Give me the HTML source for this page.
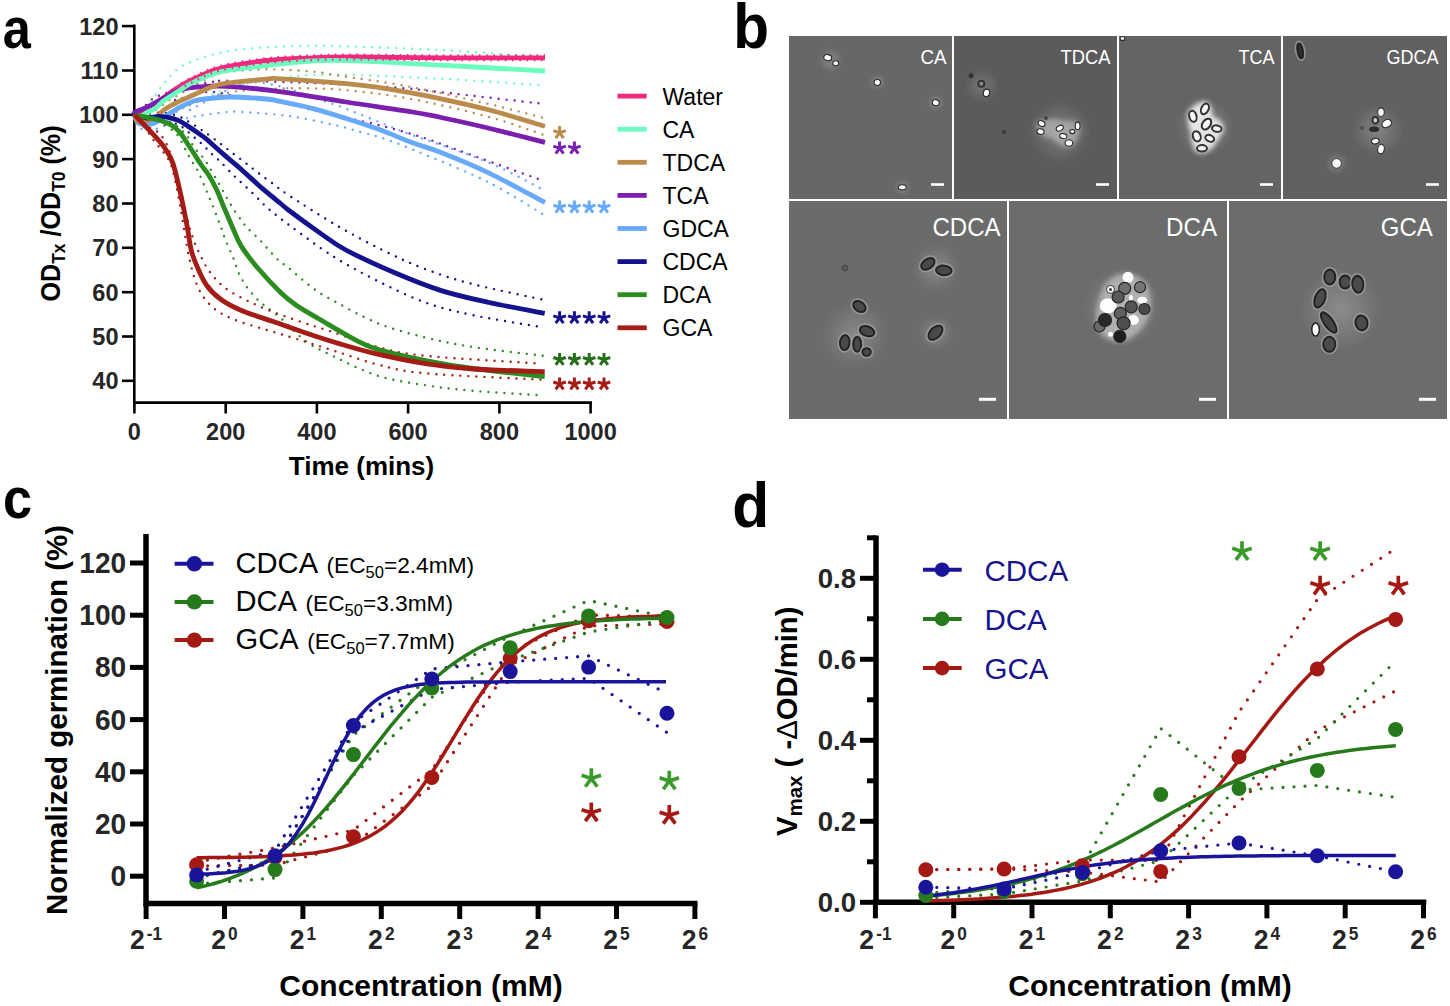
<!DOCTYPE html>
<html><head><meta charset="utf-8"><title>Figure</title>
<style>html,body{margin:0;padding:0;background:#fff;width:1450px;height:1006px;overflow:hidden}svg{display:block}</style>
</head><body>
<svg width="1450" height="1006" viewBox="0 0 1450 1006">
<defs><radialGradient id="halo"><stop offset="0" stop-color="#fff" stop-opacity="0.22"/><stop offset="1" stop-color="#fff" stop-opacity="0"/></radialGradient><filter id="soft" x="-5%" y="-5%" width="110%" height="110%"><feGaussianBlur stdDeviation="0.6"/></filter><filter id="blur3" x="-30%" y="-30%" width="160%" height="160%"><feGaussianBlur stdDeviation="2.5"/></filter><radialGradient id="vign" cx="0.5" cy="0.5" r="0.7"><stop offset="0.5" stop-color="#000" stop-opacity="0"/><stop offset="1" stop-color="#000" stop-opacity="0.06"/></radialGradient></defs>
<rect width="1450" height="1006" fill="#fff"/>
<text x="1" y="48" font-family='"Liberation Sans", sans-serif' font-weight="bold" font-size="58" transform="translate(2,0) scale(0.87,1)">a</text>
<path d="M134.3,24.5 V403.8 M133,402.6 H592" stroke="#000" stroke-width="2.6" fill="none"/>
<path d="M122,380.8 H134" stroke="#000" stroke-width="2.6"/>
<text x="118.5" y="389.2" text-anchor="end" font-family='"Liberation Sans", sans-serif' font-weight="bold" font-size="23.5" fill="#262626">40</text>
<path d="M122,336.5 H134" stroke="#000" stroke-width="2.6"/>
<text x="118.5" y="344.9" text-anchor="end" font-family='"Liberation Sans", sans-serif' font-weight="bold" font-size="23.5" fill="#262626">50</text>
<path d="M122,292.2 H134" stroke="#000" stroke-width="2.6"/>
<text x="118.5" y="300.6" text-anchor="end" font-family='"Liberation Sans", sans-serif' font-weight="bold" font-size="23.5" fill="#262626">60</text>
<path d="M122,247.8 H134" stroke="#000" stroke-width="2.6"/>
<text x="118.5" y="256.2" text-anchor="end" font-family='"Liberation Sans", sans-serif' font-weight="bold" font-size="23.5" fill="#262626">70</text>
<path d="M122,203.5 H134" stroke="#000" stroke-width="2.6"/>
<text x="118.5" y="211.9" text-anchor="end" font-family='"Liberation Sans", sans-serif' font-weight="bold" font-size="23.5" fill="#262626">80</text>
<path d="M122,159.1 H134" stroke="#000" stroke-width="2.6"/>
<text x="118.5" y="167.5" text-anchor="end" font-family='"Liberation Sans", sans-serif' font-weight="bold" font-size="23.5" fill="#262626">90</text>
<path d="M122,114.8 H134" stroke="#000" stroke-width="2.6"/>
<text x="118.5" y="123.2" text-anchor="end" font-family='"Liberation Sans", sans-serif' font-weight="bold" font-size="23.5" fill="#262626">100</text>
<path d="M122,70.5 H134" stroke="#000" stroke-width="2.6"/>
<text x="118.5" y="78.9" text-anchor="end" font-family='"Liberation Sans", sans-serif' font-weight="bold" font-size="23.5" fill="#262626">110</text>
<path d="M122,26.1 H134" stroke="#000" stroke-width="2.6"/>
<text x="118.5" y="34.5" text-anchor="end" font-family='"Liberation Sans", sans-serif' font-weight="bold" font-size="23.5" fill="#262626">120</text>
<path d="M134.4,402 V413.5" stroke="#000" stroke-width="2.6"/>
<text x="134.4" y="440" text-anchor="middle" font-family='"Liberation Sans", sans-serif' font-weight="bold" font-size="23.5" fill="#262626">0</text>
<path d="M225.7,402 V413.5" stroke="#000" stroke-width="2.6"/>
<text x="225.7" y="440" text-anchor="middle" font-family='"Liberation Sans", sans-serif' font-weight="bold" font-size="23.5" fill="#262626">200</text>
<path d="M316.9,402 V413.5" stroke="#000" stroke-width="2.6"/>
<text x="316.9" y="440" text-anchor="middle" font-family='"Liberation Sans", sans-serif' font-weight="bold" font-size="23.5" fill="#262626">400</text>
<path d="M408.1,402 V413.5" stroke="#000" stroke-width="2.6"/>
<text x="408.1" y="440" text-anchor="middle" font-family='"Liberation Sans", sans-serif' font-weight="bold" font-size="23.5" fill="#262626">600</text>
<path d="M499.4,402 V413.5" stroke="#000" stroke-width="2.6"/>
<text x="499.4" y="440" text-anchor="middle" font-family='"Liberation Sans", sans-serif' font-weight="bold" font-size="23.5" fill="#262626">800</text>
<path d="M590.6,402 V413.5" stroke="#000" stroke-width="2.6"/>
<text x="590.6" y="440" text-anchor="middle" font-family='"Liberation Sans", sans-serif' font-weight="bold" font-size="23.5" fill="#262626">1000</text>
<text x="361.5" y="474.5" text-anchor="middle" font-family='"Liberation Sans", sans-serif' font-weight="bold" font-size="26">Time (mins)</text>
<text transform="translate(59.8,301.5) rotate(-90) scale(0.915,1)" font-family='"Liberation Sans", sans-serif' font-weight="bold" font-size="27.5">OD<tspan font-size="19" dy="5">Tx</tspan><tspan dy="-5"> /OD</tspan><tspan font-size="19" dy="5">T0</tspan><tspan dy="-5"> (%)</tspan></text>
<path d="M146.0,105.0 C147.0,104.1 149.7,101.0 151.9,99.5 C154.1,98.0 156.8,96.8 159.2,95.7 C161.6,94.6 160.1,94.8 166.5,92.9 C172.9,91.0 190.0,86.4 197.8,84.5 C205.6,82.6 209.5,82.3 213.5,81.7 C217.5,81.1 207.5,80.6 221.9,80.7 C236.3,80.8 271.4,81.4 300.0,82.5 C328.6,83.6 370.0,85.8 393.5,87.4 C417.0,89.0 415.8,89.4 441.0,92.2 C466.2,95.0 527.2,102.0 544.5,104.0" fill="none" stroke="#7a1fae" stroke-width="2.4" stroke-linecap="round" stroke-dasharray="0 8"/>
<path d="M175.0,100.0 C180.0,98.7 197.5,93.3 205.2,92.2 C212.9,91.1 216.1,92.6 221.2,93.2 C226.3,93.8 225.9,94.4 236.0,96.0 C246.1,97.6 266.0,99.6 281.7,102.7 C297.4,105.8 314.0,110.7 330.0,114.4 C346.0,118.1 361.8,120.7 377.6,124.7 C393.4,128.7 411.8,134.0 425.0,138.2 C438.2,142.4 437.3,142.7 457.0,149.8 C476.7,156.9 529.0,175.6 543.4,180.8" fill="none" stroke="#7a1fae" stroke-width="2.4" stroke-linecap="round" stroke-dasharray="0 8"/>
<path d="M140.0,112.0 C141.0,111.4 143.4,111.3 146.0,108.5 C148.6,105.7 152.5,99.4 155.7,95.0 C158.9,90.6 160.5,87.0 165.1,82.1 C169.7,77.2 173.7,70.4 183.0,65.5 C192.3,60.6 207.1,55.6 221.0,52.6 C234.9,49.6 251.4,48.4 266.6,47.3 C281.8,46.2 298.1,45.9 312.0,45.8 C325.9,45.6 328.5,45.7 350.0,46.4 C371.5,47.1 408.9,48.4 441.0,50.1 C473.1,51.8 525.7,55.7 542.6,56.8" fill="none" stroke="#6cfcbe" stroke-width="2.4" stroke-linecap="round" stroke-dasharray="0 8"/>
<path d="M146.7,122.4 C149.2,121.7 157.1,119.7 162.0,118.0 C166.9,116.3 171.6,114.3 176.3,112.0 C181.1,109.7 185.7,106.4 190.5,104.0 C195.3,101.6 200.2,99.5 205.2,97.4 C210.2,95.3 215.4,93.4 220.5,91.5 C225.6,89.6 225.8,88.3 236.0,86.0 C246.2,83.7 265.5,79.6 281.7,77.7 C297.9,75.8 306.4,74.5 333.0,74.7 C359.6,74.9 405.8,76.9 441.0,78.7 C476.2,80.5 526.8,84.3 544.0,85.4" fill="none" stroke="#6cfcbe" stroke-width="2.4" stroke-linecap="round" stroke-dasharray="0 8"/>
<path d="M190.0,110.0 C199.0,105.6 228.5,87.6 243.8,83.7 C259.1,79.8 270.3,84.5 281.7,86.8 C293.1,89.1 301.9,94.0 312.0,97.4 C322.1,100.8 328.8,102.2 342.4,107.3 C356.0,112.4 382.4,123.5 393.5,127.9 C404.6,132.3 393.4,128.2 409.3,134.0 C425.2,139.8 466.2,153.1 488.6,162.5 C511.1,171.9 534.8,185.7 544.0,190.3" fill="none" stroke="#67a9fb" stroke-width="2.4" stroke-linecap="round" stroke-dasharray="0 8"/>
<path d="M141.5,128.7 C142.8,129.1 146.9,131.1 149.5,131.1 C152.1,131.1 154.5,129.6 157.1,128.7 C159.7,127.8 159.7,127.4 164.8,125.6 C169.9,123.8 181.3,119.7 187.8,117.9 C194.3,116.2 197.1,116.1 203.8,115.1 C210.5,114.1 221.5,112.5 227.8,112.0 C234.1,111.5 231.2,111.3 241.4,112.0 C251.6,112.7 273.1,113.8 289.0,116.0 C304.9,118.2 324.7,122.8 336.8,125.5 C348.9,128.2 353.6,130.2 361.7,132.4 C369.8,134.7 374.9,135.3 385.5,139.0 C396.1,142.7 407.8,147.4 425.0,154.6 C442.2,161.8 469.0,172.4 488.6,182.3 C508.2,192.2 533.6,208.7 542.6,214.0" fill="none" stroke="#67a9fb" stroke-width="2.4" stroke-linecap="round" stroke-dasharray="0 8"/>
<path d="M150.0,114.0 C154.2,111.2 165.2,103.0 175.0,97.0 C184.8,91.0 200.5,81.8 208.9,77.7 C217.3,73.6 216.0,73.8 225.6,72.4 C235.2,71.0 252.2,69.4 266.6,69.3 C281.0,69.2 300.1,70.6 312.0,71.6 C323.9,72.6 321.8,73.0 338.0,75.5 C354.2,78.0 383.9,81.8 409.0,86.6 C434.1,91.3 466.1,98.8 488.6,104.0 C511.1,109.2 534.8,115.7 544.0,118.0" fill="none" stroke="#bb8b4b" stroke-width="2.4" stroke-linecap="round" stroke-dasharray="0 8"/>
<path d="M155.0,124.0 C158.3,122.0 168.7,115.4 175.0,112.0 C181.3,108.6 186.1,106.4 193.0,103.7 C199.9,101.0 209.1,97.8 216.3,95.7 C223.5,93.6 227.8,92.4 236.2,91.3 C244.6,90.2 254.0,89.5 266.6,89.0 C279.2,88.5 298.1,88.0 312.0,88.3 C325.9,88.6 333.8,88.9 350.0,90.6 C366.2,92.3 385.9,94.1 409.0,98.5 C432.1,102.9 466.1,110.7 488.6,116.8 C511.1,122.9 534.8,132.0 544.0,135.0" fill="none" stroke="#bb8b4b" stroke-width="2.4" stroke-linecap="round" stroke-dasharray="0 8"/>
<path d="M150.0,113.0 C152.5,113.0 160.3,112.5 165.0,113.0 C169.7,113.5 174.9,114.8 178.3,116.0 C181.7,117.2 183.1,118.8 185.5,120.1 C187.9,121.4 190.4,122.6 192.7,124.0 C195.0,125.4 197.0,127.0 199.2,128.5 C201.4,130.0 202.7,130.6 206.1,133.0 C209.5,135.4 215.0,139.5 219.4,142.8 C223.8,146.1 228.0,149.6 232.3,152.9 C236.7,156.2 241.2,159.6 245.5,162.9 C249.8,166.2 253.7,169.4 258.0,172.7 C262.3,175.9 266.0,178.6 271.2,182.4 C276.4,186.2 278.2,188.3 289.0,195.4 C299.8,202.5 320.4,215.9 336.0,225.0 C351.6,234.1 367.6,242.7 382.5,250.0 C397.4,257.4 410.3,263.4 425.4,269.1 C440.5,274.8 453.3,279.1 473.2,284.2 C493.1,289.3 532.6,297.4 544.5,300.0" fill="none" stroke="#14128e" stroke-width="2.4" stroke-linecap="round" stroke-dasharray="0 8"/>
<path d="M160.0,120.0 C163.0,120.7 173.7,122.8 177.8,124.3 C181.9,125.8 182.4,127.4 184.6,129.1 C186.8,130.8 188.8,132.4 190.9,134.2 C193.0,136.0 195.0,138.0 197.1,139.8 C199.2,141.6 201.4,143.3 203.4,145.2 C205.4,147.1 206.9,149.2 208.8,151.1 C210.7,153.0 212.9,154.8 214.9,156.7 C216.9,158.6 218.2,159.4 221.1,162.3 C224.0,165.2 228.5,170.3 232.3,174.1 C236.1,177.9 240.1,181.4 244.1,185.2 C248.1,189.0 252.2,192.8 256.2,196.7 C260.2,200.6 262.7,203.8 268.2,208.5 C273.7,213.2 278.2,217.0 289.0,225.0 C299.8,233.0 318.4,247.1 333.2,256.4 C348.0,265.7 362.3,273.3 377.7,281.0 C393.1,288.7 409.5,296.8 425.4,302.5 C441.3,308.2 453.3,311.0 473.2,315.2 C493.1,319.4 532.6,325.5 544.5,327.6" fill="none" stroke="#14128e" stroke-width="2.4" stroke-linecap="round" stroke-dasharray="0 8"/>
<path d="M170.0,122.0 C171.3,122.8 175.5,125.1 178.0,127.0 C180.5,128.9 183.0,131.2 184.9,133.3 C186.8,135.4 188.2,137.2 189.7,139.5 C191.2,141.8 192.4,144.8 193.9,147.0 C195.4,149.2 197.2,150.9 198.9,152.9 C200.6,154.9 202.7,156.9 204.3,159.2 C206.0,161.4 206.7,162.9 208.8,166.4 C210.9,169.9 214.3,175.6 217.0,180.3 C219.7,185.0 222.3,189.8 225.0,194.6 C227.7,199.3 230.4,204.2 233.3,208.8 C236.2,213.4 240.2,218.8 242.6,222.1 C245.0,225.4 245.1,225.7 248.0,228.7 C250.9,231.7 255.3,235.1 260.0,240.0 C264.7,244.9 271.6,253.6 276.4,258.3 C281.2,263.0 282.9,263.3 289.0,268.3 C295.1,273.3 305.3,282.6 313.0,288.2 C320.7,293.8 324.4,295.9 335.2,301.7 C346.0,307.5 362.7,317.2 377.7,323.2 C392.7,329.2 409.5,333.5 425.4,337.5 C441.3,341.5 453.6,343.9 473.2,347.0 C492.8,350.1 531.5,354.3 543.1,355.8" fill="none" stroke="#2b8c1f" stroke-width="2.4" stroke-linecap="round" stroke-dasharray="0 8"/>
<path d="M165.0,125.0 C166.6,126.2 172.3,129.8 174.8,132.1 C177.3,134.4 178.4,136.3 179.8,138.6 C181.2,140.9 182.2,143.4 183.4,145.8 C184.7,148.2 186.0,150.5 187.3,152.9 C188.6,155.3 189.8,158.1 191.2,160.4 C192.6,162.7 194.2,164.6 195.6,166.9 C197.0,169.2 197.9,170.8 199.6,174.4 C201.3,178.0 203.5,183.7 205.6,188.7 C207.7,193.7 210.0,199.0 212.1,204.2 C214.2,209.4 216.6,215.8 218.1,219.7 C219.6,223.6 219.9,224.1 221.1,227.5 C222.3,230.9 223.4,234.9 225.5,240.0 C227.6,245.1 230.8,251.9 233.4,258.3 C236.1,264.7 237.4,271.8 241.4,278.6 C245.4,285.4 250.7,292.7 257.3,299.3 C263.9,305.9 273.2,311.5 281.1,318.4 C289.1,325.3 296.2,334.3 305.0,340.7 C313.8,347.1 321.9,350.7 334.0,356.5 C346.1,362.3 362.5,370.9 377.7,375.7 C392.9,380.5 409.5,382.7 425.4,385.2 C441.3,387.7 453.6,389.1 473.2,390.8 C492.8,392.5 531.5,394.7 543.1,395.5" fill="none" stroke="#2b8c1f" stroke-width="2.4" stroke-linecap="round" stroke-dasharray="0 8"/>
<path d="M150.0,128.0 C151.6,128.9 156.4,130.1 159.4,133.4 C162.4,136.7 165.4,140.8 168.2,147.7 C171.0,154.6 173.6,164.7 176.0,175.0 C178.4,185.3 180.6,202.4 182.5,209.8 C184.4,217.2 185.7,215.1 187.3,219.3 C188.9,223.5 190.3,230.2 192.0,235.2 C193.7,240.2 194.7,243.4 197.6,249.5 C200.5,255.6 204.8,265.1 209.5,271.5 C214.2,277.9 219.1,283.3 225.5,288.2 C231.9,293.1 239.8,296.9 247.7,300.9 C255.6,304.9 263.6,308.3 273.2,312.0 C282.8,315.7 295.5,320.0 305.0,323.2 C314.5,326.4 317.9,327.1 330.0,331.1 C342.1,335.1 361.8,342.9 377.7,347.0 C393.6,351.1 398.1,353.0 425.4,355.8 C452.7,358.6 522.1,362.4 541.5,363.7" fill="none" stroke="#a51b16" stroke-width="2.4" stroke-linecap="round" stroke-dasharray="0 8"/>
<path d="M144.3,127.0 C145.9,129.3 150.6,136.2 153.9,140.6 C157.2,145.0 161.1,148.7 164.2,153.3 C167.2,157.9 169.6,159.8 172.2,168.4 C174.8,177.0 177.2,190.3 180.0,205.0 C182.8,219.7 185.8,242.5 188.9,256.4 C192.0,270.3 194.4,279.7 198.4,288.2 C202.4,296.7 206.9,302.1 212.7,307.3 C218.5,312.5 224.7,315.5 233.4,319.2 C242.2,322.9 254.6,326.2 265.2,329.5 C275.8,332.8 285.4,335.4 297.0,339.0 C308.6,342.6 321.4,346.8 334.8,351.0 C348.2,355.2 362.6,360.8 377.7,364.5 C392.8,368.2 398.1,370.8 425.4,373.3 C452.7,375.8 522.1,378.6 541.5,379.6" fill="none" stroke="#a51b16" stroke-width="2.4" stroke-linecap="round" stroke-dasharray="0 8"/>
<path d="M134.4,114.8 C135.3,114.3 137.4,113.5 140.0,112.0 C142.6,110.5 146.2,108.3 150.0,106.0 C153.8,103.7 159.3,100.4 163.0,98.0 C166.7,95.6 169.0,93.6 172.0,91.5 C175.0,89.4 176.7,87.9 181.0,85.5 C185.3,83.1 191.3,79.9 198.0,77.0 C204.7,74.1 209.5,70.8 221.0,68.0 C232.5,65.2 251.8,62.2 267.0,60.5 C282.2,58.8 298.2,58.4 312.0,57.8 C325.8,57.2 328.5,57.0 350.0,57.0 C371.5,57.0 408.5,57.7 441.0,57.8 C473.5,57.9 527.7,57.8 545.0,57.8" fill="none" stroke="#ef2a7e" stroke-width="4.8" stroke-linejoin="round"/>
<path d="M134.4,114.8 C134.5,114.4 132.8,113.6 134.8,112.4 C136.8,111.2 142.5,109.3 146.5,107.4 C150.5,105.5 155.6,103.1 159.0,101.2 C162.4,99.3 163.5,98.0 167.2,96.0 C170.9,94.0 175.6,91.0 181.0,89.5 C186.4,88.0 191.9,87.3 199.6,86.8 C207.3,86.3 213.7,85.5 227.4,86.3 C241.1,87.1 261.9,89.2 281.7,91.8 C301.5,94.4 324.4,98.6 346.2,102.0 C368.0,105.4 396.7,109.4 412.5,112.0 C428.3,114.6 428.1,114.8 441.0,117.5 C453.9,120.2 472.7,124.3 490.0,128.5 C507.3,132.7 535.8,140.1 545.0,142.4" fill="none" stroke="#7a1fae" stroke-width="4.8" stroke-linejoin="round"/>
<path d="M134.4,114.8 C135.1,115.4 136.3,118.5 138.3,118.2 C140.3,117.9 143.8,114.4 146.5,112.8 C149.2,111.2 152.0,110.6 154.8,108.7 C157.6,106.8 160.3,103.4 163.1,101.2 C165.9,99.0 168.4,97.8 171.4,95.8 C174.4,93.8 177.5,91.7 181.0,89.5 C184.5,87.3 185.9,85.6 192.6,82.6 C199.3,79.6 208.7,74.4 221.0,71.6 C233.3,68.8 251.4,67.3 266.6,65.5 C281.8,63.7 298.1,61.8 312.0,61.0 C325.9,60.2 328.5,60.0 350.0,60.7 C371.5,61.4 408.5,63.5 441.0,65.2 C473.5,66.9 527.7,70.0 545.0,71.0" fill="none" stroke="#6cfcbe" stroke-width="4.8" stroke-linejoin="round"/>
<path d="M134.4,114.8 C135.1,116.2 135.6,121.6 138.3,123.1 C141.0,124.6 147.2,124.4 150.7,124.0 C154.1,123.6 156.2,122.2 159.0,120.7 C161.8,119.2 163.8,117.1 167.2,114.9 C170.6,112.7 175.8,109.5 179.6,107.4 C183.4,105.3 186.4,103.7 190.0,102.4 C193.6,101.1 194.4,100.4 201.0,99.5 C207.6,98.6 218.6,97.1 229.5,97.0 C240.4,96.9 258.2,98.3 266.6,99.0 C275.0,99.7 272.2,99.8 280.0,101.4 C287.8,103.0 302.1,105.8 313.1,108.6 C324.1,111.4 335.2,115.0 346.2,118.5 C357.2,122.0 368.2,125.5 379.3,129.5 C390.4,133.6 402.2,139.0 412.5,142.8 C422.8,146.6 428.3,147.5 441.0,152.5 C453.7,157.5 471.3,164.5 488.6,172.8 C505.9,181.1 535.6,197.6 545.0,202.5" fill="none" stroke="#67a9fb" stroke-width="4.8" stroke-linejoin="round"/>
<path d="M134.4,114.8 C135.1,115.9 136.3,120.5 138.3,121.5 C140.3,122.5 143.8,121.3 146.5,120.7 C149.2,120.1 152.0,119.5 154.8,117.8 C157.6,116.1 160.3,112.8 163.1,110.7 C165.9,108.6 168.7,106.9 171.4,105.3 C174.2,103.7 176.5,102.7 179.6,101.2 C182.7,99.7 184.3,99.0 190.0,96.5 C195.7,94.0 206.9,88.6 213.5,86.3 C220.1,84.0 220.7,84.0 229.5,82.8 C238.3,81.6 258.2,79.9 266.6,79.2 C275.0,78.5 266.7,78.0 280.0,78.8 C293.3,79.5 329.6,82.2 346.2,83.7 C362.8,85.2 368.2,86.0 379.3,87.6 C390.4,89.2 402.4,91.3 412.5,93.1 C422.6,94.9 427.3,95.8 440.0,98.6 C452.7,101.4 471.1,105.2 488.6,109.8 C506.1,114.4 535.6,123.5 545.0,126.3" fill="none" stroke="#bb8b4b" stroke-width="4.8" stroke-linejoin="round"/>
<path d="M134.4,114.8 C136.4,115.3 142.4,117.8 146.5,118.0 C150.6,118.2 155.1,116.3 159.0,116.3 C162.9,116.3 166.7,117.1 170.0,117.8 C173.3,118.5 175.9,119.3 178.9,120.7 C181.9,122.1 184.9,124.2 187.9,126.1 C190.9,128.0 193.8,130.0 196.8,132.1 C199.8,134.2 203.6,136.9 205.8,138.6 C208.0,140.3 207.0,139.5 210.0,142.2 C213.0,144.9 219.3,150.6 223.9,154.6 C228.5,158.6 233.2,162.3 237.8,166.4 C242.4,170.5 247.3,175.0 251.7,178.9 C256.1,182.8 259.3,185.9 264.0,189.9 C268.7,193.9 275.8,199.6 280.0,203.0 C284.2,206.4 282.2,205.4 289.0,210.5 C295.8,215.6 311.4,227.0 320.9,233.6 C330.4,240.2 333.8,243.6 345.9,250.0 C358.0,256.4 377.7,265.5 393.6,272.3 C409.5,279.1 425.4,285.6 441.3,290.6 C457.2,295.6 471.8,298.7 489.0,302.5 C506.2,306.3 535.4,311.5 544.7,313.3" fill="none" stroke="#14128e" stroke-width="4.8" stroke-linejoin="round"/>
<path d="M134.4,114.8 C137.0,115.3 145.6,117.0 150.0,118.0 C154.4,119.0 157.7,119.7 161.0,120.7 C164.3,121.8 167.5,123.0 170.0,124.3 C172.5,125.6 174.0,126.7 176.0,128.5 C178.0,130.3 180.2,132.8 181.9,135.0 C183.6,137.2 184.8,139.5 186.1,141.5 C187.4,143.5 188.5,145.2 189.7,147.0 C190.9,148.8 191.4,149.6 193.3,152.5 C195.2,155.4 198.4,160.7 201.0,164.5 C203.6,168.3 206.3,171.2 209.0,175.5 C211.7,179.8 214.5,185.2 217.0,190.5 C219.5,195.8 221.3,201.2 224.0,207.5 C226.7,213.8 230.1,222.0 233.0,228.5 C235.9,235.0 237.3,239.9 241.4,246.4 C245.5,252.9 250.7,259.7 257.3,267.5 C263.9,275.3 274.5,286.6 281.1,293.0 C287.7,299.4 290.4,301.2 297.0,305.7 C303.6,310.2 311.4,314.4 320.9,320.0 C330.4,325.6 344.4,334.2 353.9,339.1 C363.4,344.0 365.8,345.8 377.7,349.4 C389.6,353.0 409.5,357.3 425.4,360.5 C441.3,363.7 453.3,365.8 473.2,368.5 C493.1,371.2 532.8,375.2 544.7,376.5" fill="none" stroke="#2b8c1f" stroke-width="4.8" stroke-linejoin="round"/>
<path d="M134.4,114.8 C136.0,116.4 140.6,121.0 143.9,124.5 C147.2,128.0 150.9,131.8 154.4,135.7 C157.9,139.6 161.7,143.5 164.8,148.2 C167.9,152.8 170.3,155.7 173.0,163.6 C175.7,171.5 178.5,184.8 180.9,195.4 C183.3,206.0 185.6,218.2 187.3,227.3 C189.0,236.4 189.6,243.6 191.2,250.0 C192.8,256.4 194.3,260.1 196.8,265.9 C199.3,271.7 202.4,279.4 206.4,285.0 C210.4,290.6 214.9,295.1 220.7,299.3 C226.5,303.6 232.7,306.8 241.4,310.5 C250.2,314.2 262.6,317.9 273.2,321.6 C283.8,325.3 293.9,329.0 305.0,332.7 C316.1,336.4 327.9,340.3 340.0,343.9 C352.1,347.5 363.5,350.9 377.7,354.2 C391.9,357.5 409.5,361.2 425.4,363.7 C441.3,366.2 453.3,367.7 473.2,369.0 C493.1,370.3 532.8,371.2 544.7,371.7" fill="none" stroke="#a51b16" stroke-width="4.8" stroke-linejoin="round"/>
<path d="M181.0,85.5 C183.8,84.1 191.3,79.9 198.0,77.0 C204.7,74.1 209.5,70.8 221.0,68.0 C232.5,65.2 251.8,62.2 267.0,60.5 C282.2,58.8 298.2,58.4 312.0,57.8 C325.8,57.2 328.5,57.0 350.0,57.0 C371.5,57.0 408.5,57.7 441.0,57.8 C473.5,57.9 527.7,57.8 545.0,57.8" fill="none" stroke="#ef2a7e" stroke-width="2.2" stroke-dasharray="1.6 5.6" transform="translate(0,-2.4)"/>
<path d="M181.0,85.5 C183.8,84.1 191.3,79.9 198.0,77.0 C204.7,74.1 209.5,70.8 221.0,68.0 C232.5,65.2 251.8,62.2 267.0,60.5 C282.2,58.8 298.2,58.4 312.0,57.8 C325.8,57.2 328.5,57.0 350.0,57.0 C371.5,57.0 408.5,57.7 441.0,57.8 C473.5,57.9 527.7,57.8 545.0,57.8" fill="none" stroke="#ef2a7e" stroke-width="2.2" stroke-dasharray="1.6 5.6" stroke-dashoffset="3" transform="translate(0,2.4)"/>
<path d="M617.5,96.1 H646.7" stroke="#ef2a7e" stroke-width="4.8"/>
<text x="662.5" y="104.5" font-family='"Liberation Sans", sans-serif' font-size="23">Water</text>
<path d="M617.5,129.2 H646.7" stroke="#6cfcbe" stroke-width="4.8"/>
<text x="662.5" y="137.6" font-family='"Liberation Sans", sans-serif' font-size="23">CA</text>
<path d="M617.5,162.3 H646.7" stroke="#bb8b4b" stroke-width="4.8"/>
<text x="662.5" y="170.7" font-family='"Liberation Sans", sans-serif' font-size="23">TDCA</text>
<path d="M617.5,195.4 H646.7" stroke="#7a1fae" stroke-width="4.8"/>
<text x="662.5" y="203.8" font-family='"Liberation Sans", sans-serif' font-size="23">TCA</text>
<path d="M617.5,228.5 H646.7" stroke="#67a9fb" stroke-width="4.8"/>
<text x="662.5" y="236.9" font-family='"Liberation Sans", sans-serif' font-size="23">GDCA</text>
<path d="M617.5,261.6 H646.7" stroke="#14128e" stroke-width="4.8"/>
<text x="662.5" y="270.0" font-family='"Liberation Sans", sans-serif' font-size="23">CDCA</text>
<path d="M617.5,294.7 H646.7" stroke="#2b8c1f" stroke-width="4.8"/>
<text x="662.5" y="303.1" font-family='"Liberation Sans", sans-serif' font-size="23">DCA</text>
<path d="M617.5,327.8 H646.7" stroke="#a51b16" stroke-width="4.8"/>
<text x="662.5" y="336.2" font-family='"Liberation Sans", sans-serif' font-size="23">GCA</text>
<path d="M559.60,132.70 L559.60,126.10 M559.60,132.70 L565.88,130.66 M559.60,132.70 L563.48,138.04 M559.60,132.70 L555.72,138.04 M559.60,132.70 L553.32,130.66" stroke="#bb8b4b" stroke-width="3.00" fill="none" stroke-linecap="butt"/>
<path d="M559.60,148.20 L559.60,141.60 M559.60,148.20 L565.88,146.16 M559.60,148.20 L563.48,153.54 M559.60,148.20 L555.72,153.54 M559.60,148.20 L553.32,146.16" stroke="#7a1fae" stroke-width="3.00" fill="none" stroke-linecap="butt"/>
<path d="M574.40,148.20 L574.40,141.60 M574.40,148.20 L580.68,146.16 M574.40,148.20 L578.28,153.54 M574.40,148.20 L570.52,153.54 M574.40,148.20 L568.12,146.16" stroke="#7a1fae" stroke-width="3.00" fill="none" stroke-linecap="butt"/>
<path d="M559.60,207.20 L559.60,200.60 M559.60,207.20 L565.88,205.16 M559.60,207.20 L563.48,212.54 M559.60,207.20 L555.72,212.54 M559.60,207.20 L553.32,205.16" stroke="#67a9fb" stroke-width="3.00" fill="none" stroke-linecap="butt"/>
<path d="M574.40,207.20 L574.40,200.60 M574.40,207.20 L580.68,205.16 M574.40,207.20 L578.28,212.54 M574.40,207.20 L570.52,212.54 M574.40,207.20 L568.12,205.16" stroke="#67a9fb" stroke-width="3.00" fill="none" stroke-linecap="butt"/>
<path d="M589.20,207.20 L589.20,200.60 M589.20,207.20 L595.48,205.16 M589.20,207.20 L593.08,212.54 M589.20,207.20 L585.32,212.54 M589.20,207.20 L582.92,205.16" stroke="#67a9fb" stroke-width="3.00" fill="none" stroke-linecap="butt"/>
<path d="M604.00,207.20 L604.00,200.60 M604.00,207.20 L610.28,205.16 M604.00,207.20 L607.88,212.54 M604.00,207.20 L600.12,212.54 M604.00,207.20 L597.72,205.16" stroke="#67a9fb" stroke-width="3.00" fill="none" stroke-linecap="butt"/>
<path d="M559.60,317.90 L559.60,311.30 M559.60,317.90 L565.88,315.86 M559.60,317.90 L563.48,323.24 M559.60,317.90 L555.72,323.24 M559.60,317.90 L553.32,315.86" stroke="#14128e" stroke-width="3.00" fill="none" stroke-linecap="butt"/>
<path d="M574.40,317.90 L574.40,311.30 M574.40,317.90 L580.68,315.86 M574.40,317.90 L578.28,323.24 M574.40,317.90 L570.52,323.24 M574.40,317.90 L568.12,315.86" stroke="#14128e" stroke-width="3.00" fill="none" stroke-linecap="butt"/>
<path d="M589.20,317.90 L589.20,311.30 M589.20,317.90 L595.48,315.86 M589.20,317.90 L593.08,323.24 M589.20,317.90 L585.32,323.24 M589.20,317.90 L582.92,315.86" stroke="#14128e" stroke-width="3.00" fill="none" stroke-linecap="butt"/>
<path d="M604.00,317.90 L604.00,311.30 M604.00,317.90 L610.28,315.86 M604.00,317.90 L607.88,323.24 M604.00,317.90 L600.12,323.24 M604.00,317.90 L597.72,315.86" stroke="#14128e" stroke-width="3.00" fill="none" stroke-linecap="butt"/>
<path d="M559.60,359.50 L559.60,352.90 M559.60,359.50 L565.88,357.46 M559.60,359.50 L563.48,364.84 M559.60,359.50 L555.72,364.84 M559.60,359.50 L553.32,357.46" stroke="#276e1c" stroke-width="3.00" fill="none" stroke-linecap="butt"/>
<path d="M574.40,359.50 L574.40,352.90 M574.40,359.50 L580.68,357.46 M574.40,359.50 L578.28,364.84 M574.40,359.50 L570.52,364.84 M574.40,359.50 L568.12,357.46" stroke="#276e1c" stroke-width="3.00" fill="none" stroke-linecap="butt"/>
<path d="M589.20,359.50 L589.20,352.90 M589.20,359.50 L595.48,357.46 M589.20,359.50 L593.08,364.84 M589.20,359.50 L585.32,364.84 M589.20,359.50 L582.92,357.46" stroke="#276e1c" stroke-width="3.00" fill="none" stroke-linecap="butt"/>
<path d="M604.00,359.50 L604.00,352.90 M604.00,359.50 L610.28,357.46 M604.00,359.50 L607.88,364.84 M604.00,359.50 L600.12,364.84 M604.00,359.50 L597.72,357.46" stroke="#276e1c" stroke-width="3.00" fill="none" stroke-linecap="butt"/>
<path d="M559.60,384.00 L559.60,377.40 M559.60,384.00 L565.88,381.96 M559.60,384.00 L563.48,389.34 M559.60,384.00 L555.72,389.34 M559.60,384.00 L553.32,381.96" stroke="#a51b16" stroke-width="3.00" fill="none" stroke-linecap="butt"/>
<path d="M574.40,384.00 L574.40,377.40 M574.40,384.00 L580.68,381.96 M574.40,384.00 L578.28,389.34 M574.40,384.00 L570.52,389.34 M574.40,384.00 L568.12,381.96" stroke="#a51b16" stroke-width="3.00" fill="none" stroke-linecap="butt"/>
<path d="M589.20,384.00 L589.20,377.40 M589.20,384.00 L595.48,381.96 M589.20,384.00 L593.08,389.34 M589.20,384.00 L585.32,389.34 M589.20,384.00 L582.92,381.96" stroke="#a51b16" stroke-width="3.00" fill="none" stroke-linecap="butt"/>
<path d="M604.00,384.00 L604.00,377.40 M604.00,384.00 L610.28,381.96 M604.00,384.00 L607.88,389.34 M604.00,384.00 L600.12,389.34 M604.00,384.00 L597.72,381.96" stroke="#a51b16" stroke-width="3.00" fill="none" stroke-linecap="butt"/>
<text x="0" y="0" font-family='"Liberation Sans", sans-serif' font-weight="bold" font-size="63" transform="translate(733.3,48) scale(0.93,1)">b</text>
<rect x="789" y="36" width="658" height="383" fill="#fff"/>
<rect x="789" y="36" width="163" height="163" fill="#676767"/>
<text x="920.5" y="64.4" font-family='"Liberation Sans", sans-serif' font-size="20.5" fill="#fff" textLength="26" lengthAdjust="spacingAndGlyphs">CA</text>
<rect x="931.0" y="183.2" width="13" height="2.6" fill="#fff"/>
<rect x="954" y="36" width="163" height="163" fill="#5b5b5b"/>
<text x="1060.5" y="64.4" font-family='"Liberation Sans", sans-serif' font-size="20.5" fill="#fff" textLength="50" lengthAdjust="spacingAndGlyphs">TDCA</text>
<rect x="1096.0" y="183.2" width="13" height="2.6" fill="#fff"/>
<rect x="1119" y="36" width="162" height="163" fill="#646464"/>
<text x="1238.5" y="64.4" font-family='"Liberation Sans", sans-serif' font-size="20.5" fill="#fff" textLength="36" lengthAdjust="spacingAndGlyphs">TCA</text>
<rect x="1260.0" y="183.2" width="13" height="2.6" fill="#fff"/>
<rect x="1283" y="36" width="164" height="163" fill="#616161"/>
<text x="1386.5" y="64.4" font-family='"Liberation Sans", sans-serif' font-size="20.5" fill="#fff" textLength="52" lengthAdjust="spacingAndGlyphs">GDCA</text>
<rect x="1426.0" y="183.2" width="13" height="2.6" fill="#fff"/>
<rect x="789" y="201" width="218" height="218" fill="#6b6b6b"/>
<text x="932.5" y="235.5" font-family='"Liberation Sans", sans-serif' font-size="26" fill="#fff" textLength="68" lengthAdjust="spacingAndGlyphs">CDCA</text>
<rect x="979.0" y="397.8" width="17" height="3" fill="#fff"/>
<rect x="1009" y="201" width="218" height="218" fill="#6c6c6c"/>
<text x="1166.0" y="235.5" font-family='"Liberation Sans", sans-serif' font-size="26" fill="#fff" textLength="51" lengthAdjust="spacingAndGlyphs">DCA</text>
<rect x="1199.0" y="397.8" width="17" height="3" fill="#fff"/>
<rect x="1229" y="201" width="218" height="218" fill="#6c6c6c"/>
<text x="1380.8" y="235.5" font-family='"Liberation Sans", sans-serif' font-size="26" fill="#fff" textLength="52" lengthAdjust="spacingAndGlyphs">GCA</text>
<rect x="1419.0" y="397.8" width="17" height="3" fill="#fff"/>
<g filter="url(#soft)">
<circle cx="831.0" cy="60.0" r="13.0" fill="url(#halo)" opacity="1.00"/>
<ellipse cx="827.7" cy="57.6" rx="4.0" ry="3.0" transform="rotate(10 827.7 57.6)" fill="#fcfcfc" stroke="#2a2a2a" stroke-width="1.1"/>
<ellipse cx="835.7" cy="63.3" rx="3.0" ry="2.5" transform="rotate(0 835.7 63.3)" fill="#fcfcfc" stroke="#2a2a2a" stroke-width="1.1"/>
<circle cx="877.3" cy="82.2" r="9.0" fill="url(#halo)" opacity="1.00"/>
<ellipse cx="877.3" cy="82.5" rx="3.2" ry="3.0" transform="rotate(0 877.3 82.5)" fill="#fcfcfc" stroke="#2a2a2a" stroke-width="1.1"/>
<circle cx="935.8" cy="102.7" r="9.0" fill="url(#halo)" opacity="1.00"/>
<ellipse cx="935.8" cy="102.7" rx="3.5" ry="3.0" transform="rotate(20 935.8 102.7)" fill="#fcfcfc" stroke="#2a2a2a" stroke-width="1.1"/>
<circle cx="902.3" cy="187.3" r="9.0" fill="url(#halo)" opacity="1.00"/>
<ellipse cx="902.3" cy="187.3" rx="4.0" ry="2.6" transform="rotate(0 902.3 187.3)" fill="#fcfcfc" stroke="#2a2a2a" stroke-width="1.1"/>
<circle cx="982.0" cy="86.0" r="18.0" fill="url(#halo)" opacity="0.80"/>
<circle cx="971" cy="75.8" r="2.5" fill="#333"/>
<ellipse cx="981.3" cy="83.8" rx="3.0" ry="3.0" transform="rotate(0 981.3 83.8)" fill="#8a8a8a" stroke="#303030" stroke-width="2"/>
<ellipse cx="986.5" cy="92.9" rx="3.2" ry="3.8" transform="rotate(10 986.5 92.9)" fill="#fcfcfc" stroke="#2a2a2a" stroke-width="1.1"/>
<circle cx="1060.0" cy="132.0" r="32.0" fill="url(#halo)" opacity="1.00"/>
<path d="M1037,122 Q1050,116 1062,121 Q1078,118 1081,128 Q1078,142 1070,148 Q1058,146 1052,138 Q1040,138 1037,130 Z" fill="#e0e0e0" opacity="0.45" filter="url(#blur3)"/>
<ellipse cx="1041.6" cy="123.6" rx="3.6" ry="2.6" transform="rotate(30 1041.6 123.6)" fill="#fcfcfc" stroke="#2a2a2a" stroke-width="1.1"/>
<ellipse cx="1040.5" cy="131.6" rx="3.6" ry="2.8" transform="rotate(10 1040.5 131.6)" fill="#fcfcfc" stroke="#2a2a2a" stroke-width="1.1"/>
<ellipse cx="1059.8" cy="128.2" rx="3.8" ry="2.5" transform="rotate(-30 1059.8 128.2)" fill="#fcfcfc" stroke="#2a2a2a" stroke-width="1.1"/>
<ellipse cx="1063.2" cy="136.1" rx="3.6" ry="2.5" transform="rotate(10 1063.2 136.1)" fill="#fcfcfc" stroke="#2a2a2a" stroke-width="1.1"/>
<ellipse cx="1072.3" cy="131.6" rx="2.5" ry="2.0" transform="rotate(0 1072.3 131.6)" fill="#fcfcfc" stroke="#2a2a2a" stroke-width="1.1"/>
<ellipse cx="1077.6" cy="125.9" rx="2.4" ry="3.8" transform="rotate(0 1077.6 125.9)" fill="#fcfcfc" stroke="#2a2a2a" stroke-width="1.1"/>
<ellipse cx="1068.9" cy="143.0" rx="3.8" ry="3.3" transform="rotate(0 1068.9 143.0)" fill="#fcfcfc" stroke="#2a2a2a" stroke-width="1.1"/>
<circle cx="1046" cy="118" r="2" fill="#444"/>
<circle cx="1004" cy="132" r="2.2" fill="#3e3e3e"/>
<circle cx="1205.0" cy="128.0" r="30.0" fill="url(#halo)" opacity="1.00"/>
<path d="M1188,112 Q1196,101 1206,101 Q1214,108 1212,116 Q1224,120 1224,130 Q1218,140 1214,146 Q1206,156 1196,152 Q1190,142 1191,132 Q1186,122 1188,112 Z" fill="#f2f2f2" opacity="0.9" filter="url(#blur3)"/>
<ellipse cx="1192.9" cy="116.3" rx="3.6" ry="5.6" transform="rotate(-15 1192.9 116.3)" fill="#f7f7f7" stroke="#303030" stroke-width="2"/>
<ellipse cx="1204.9" cy="108.9" rx="3.6" ry="5.6" transform="rotate(25 1204.9 108.9)" fill="#f7f7f7" stroke="#303030" stroke-width="2"/>
<ellipse cx="1206.5" cy="124.1" rx="4.0" ry="6.0" transform="rotate(35 1206.5 124.1)" fill="#f7f7f7" stroke="#303030" stroke-width="2"/>
<ellipse cx="1216.8" cy="128.6" rx="4.8" ry="3.2" transform="rotate(10 1216.8 128.6)" fill="#f7f7f7" stroke="#303030" stroke-width="2"/>
<ellipse cx="1196.8" cy="136.3" rx="3.8" ry="5.2" transform="rotate(-20 1196.8 136.3)" fill="#f7f7f7" stroke="#303030" stroke-width="2"/>
<ellipse cx="1209.7" cy="138.3" rx="4.6" ry="3.2" transform="rotate(25 1209.7 138.3)" fill="#f7f7f7" stroke="#303030" stroke-width="2"/>
<ellipse cx="1202.0" cy="148.3" rx="5.0" ry="3.2" transform="rotate(0 1202.0 148.3)" fill="#f7f7f7" stroke="#303030" stroke-width="2"/>
<ellipse cx="1122.5" cy="38.5" rx="2.4" ry="2.0" transform="rotate(0 1122.5 38.5)" fill="#fcfcfc" stroke="#2a2a2a" stroke-width="1.1"/>
<ellipse cx="1300.2" cy="50.8" rx="4.4" ry="9.3" transform="rotate(-10 1300.2 50.8)" fill="none" stroke="#9a9a9a" stroke-width="2" opacity="0.8"/>
<ellipse cx="1300.2" cy="50.8" rx="2.6" ry="7.5" transform="rotate(-10 1300.2 50.8)" fill="#2e2e2e" stroke="#202020" stroke-width="1.9"/>
<circle cx="1378.0" cy="130.0" r="26.0" fill="url(#halo)" opacity="1.00"/>
<ellipse cx="1381.0" cy="112.2" rx="3.3" ry="4.3" transform="rotate(0 1381.0 112.2)" fill="#fcfcfc" stroke="#2a2a2a" stroke-width="1.1"/>
<ellipse cx="1375.3" cy="120.2" rx="2.8" ry="3.3" transform="rotate(0 1375.3 120.2)" fill="#cfcfcf" stroke="#303030" stroke-width="2"/>
<ellipse cx="1386.7" cy="123.6" rx="5.0" ry="3.7" transform="rotate(-30 1386.7 123.6)" fill="#fcfcfc" stroke="#2a2a2a" stroke-width="1.1"/>
<ellipse cx="1374.2" cy="129.3" rx="5" ry="2.8" fill="#2d2d2d"/>
<circle cx="1362" cy="128" r="2" fill="#4f4f4f"/>
<ellipse cx="1375.3" cy="141.1" rx="3.8" ry="2.8" transform="rotate(-10 1375.3 141.1)" fill="#fcfcfc" stroke="#2a2a2a" stroke-width="1.1"/>
<ellipse cx="1381.0" cy="149.1" rx="3.3" ry="4.8" transform="rotate(10 1381.0 149.1)" fill="#fcfcfc" stroke="#2a2a2a" stroke-width="1.1"/>
<circle cx="1336.6" cy="163.4" r="12.0" fill="url(#halo)" opacity="1.00"/>
<circle cx="1336.6" cy="163.4" r="4.8" fill="#fbfbfb" stroke="#333" stroke-width="1"/>
<circle cx="936.0" cy="268.0" r="24.0" fill="url(#halo)" opacity="0.90"/>
<circle cx="855.0" cy="335.0" r="34.0" fill="url(#halo)" opacity="0.90"/>
<circle cx="935.5" cy="332.7" r="18.0" fill="url(#halo)" opacity="0.90"/>
<circle cx="845" cy="268" r="3" fill="#5a5a5a" stroke="#444" stroke-width="1"/>
<ellipse cx="927.9" cy="263.9" rx="9.3" ry="6.6" transform="rotate(-35 927.9 263.9)" fill="none" stroke="#9a9a9a" stroke-width="2" opacity="0.8"/>
<ellipse cx="927.9" cy="263.9" rx="7.5" ry="4.8" transform="rotate(-35 927.9 263.9)" fill="#4a4a4a" stroke="#202020" stroke-width="1.9"/>
<ellipse cx="943.8" cy="270.4" rx="9.6" ry="6.6" transform="rotate(5 943.8 270.4)" fill="none" stroke="#9a9a9a" stroke-width="2" opacity="0.8"/>
<ellipse cx="943.8" cy="270.4" rx="7.8" ry="4.8" transform="rotate(5 943.8 270.4)" fill="#4a4a4a" stroke="#202020" stroke-width="1.9"/>
<ellipse cx="859.4" cy="306.5" rx="8.6" ry="6.6" transform="rotate(35 859.4 306.5)" fill="none" stroke="#9a9a9a" stroke-width="2" opacity="0.8"/>
<ellipse cx="859.4" cy="306.5" rx="6.8" ry="4.8" transform="rotate(35 859.4 306.5)" fill="#4a4a4a" stroke="#202020" stroke-width="1.9"/>
<ellipse cx="867.1" cy="331.2" rx="9.3" ry="6.6" transform="rotate(20 867.1 331.2)" fill="none" stroke="#9a9a9a" stroke-width="2" opacity="0.8"/>
<ellipse cx="867.1" cy="331.2" rx="7.5" ry="4.8" transform="rotate(20 867.1 331.2)" fill="#4a4a4a" stroke="#202020" stroke-width="1.9"/>
<ellipse cx="844.8" cy="342.6" rx="6.6" ry="9.3" transform="rotate(5 844.8 342.6)" fill="none" stroke="#9a9a9a" stroke-width="2" opacity="0.8"/>
<ellipse cx="844.8" cy="342.6" rx="4.8" ry="7.5" transform="rotate(5 844.8 342.6)" fill="#4a4a4a" stroke="#202020" stroke-width="1.9"/>
<ellipse cx="857.2" cy="344.3" rx="5.8" ry="9.3" transform="rotate(0 857.2 344.3)" fill="none" stroke="#9a9a9a" stroke-width="2" opacity="0.8"/>
<ellipse cx="857.2" cy="344.3" rx="4.0" ry="7.5" transform="rotate(0 857.2 344.3)" fill="#4a4a4a" stroke="#202020" stroke-width="1.9"/>
<ellipse cx="866.6" cy="352.0" rx="6.0" ry="5.6" transform="rotate(0 866.6 352.0)" fill="none" stroke="#9a9a9a" stroke-width="2" opacity="0.8"/>
<ellipse cx="866.6" cy="352.0" rx="4.2" ry="3.8" transform="rotate(0 866.6 352.0)" fill="#4a4a4a" stroke="#202020" stroke-width="1.9"/>
<ellipse cx="935.5" cy="332.7" rx="10.3" ry="7.0" transform="rotate(-45 935.5 332.7)" fill="none" stroke="#9a9a9a" stroke-width="2" opacity="0.8"/>
<ellipse cx="935.5" cy="332.7" rx="8.5" ry="5.2" transform="rotate(-45 935.5 332.7)" fill="#4a4a4a" stroke="#202020" stroke-width="1.9"/>
<circle cx="1122.7" cy="307.2" r="40" fill="url(#halo)"/>
<path d="M1100,296 Q1106,276 1122,274 Q1138,272 1148,286 Q1154,302 1148,318 Q1140,336 1122,342 Q1104,342 1097,328 Q1094,310 1100,296 Z" fill="#b8b8b8" opacity="0.85" filter="url(#blur3)"/>
<ellipse cx="1128.0" cy="277.3" rx="5.5" ry="5.5" fill="#fdfdfd"/>
<ellipse cx="1108.3" cy="305.8" rx="8.5" ry="7.5" fill="#fdfdfd"/>
<ellipse cx="1142.2" cy="300.3" rx="5.0" ry="3.5" fill="#fdfdfd"/>
<ellipse cx="1133.4" cy="320.0" rx="5.5" ry="5.0" fill="#fdfdfd"/>
<ellipse cx="1110.5" cy="334.2" rx="2.5" ry="2.5" fill="#fdfdfd"/>
<ellipse cx="1131.0" cy="298.0" rx="2.0" ry="3.0" fill="#fdfdfd"/>
<circle cx="1124.7" cy="288.3" r="6.0" fill="#707070" stroke="#262626" stroke-width="1.2"/>
<circle cx="1140.0" cy="287.2" r="5.5" fill="#767676" stroke="#262626" stroke-width="1.2"/>
<circle cx="1118.1" cy="297.0" r="6.0" fill="#5a5a5a" stroke="#262626" stroke-width="1.2"/>
<circle cx="1099.5" cy="326.5" r="5.5" fill="#6a6a6a" stroke="#262626" stroke-width="1.2"/>
<circle cx="1120.3" cy="313.4" r="6.0" fill="#5e5e5e" stroke="#262626" stroke-width="1.2"/>
<circle cx="1131.2" cy="306.9" r="6.0" fill="#555" stroke="#262626" stroke-width="1.2"/>
<circle cx="1144.4" cy="309.0" r="5.5" fill="#4a4a4a" stroke="#262626" stroke-width="1.2"/>
<circle cx="1123.6" cy="323.3" r="6.5" fill="#505050" stroke="#262626" stroke-width="1.2"/>
<circle cx="1105.0" cy="320.0" r="6.5" fill="#2c2c2c" stroke="#262626" stroke-width="1.2"/>
<circle cx="1119.8" cy="336.4" r="6.0" fill="#1e1e1e" stroke="#262626" stroke-width="1.2"/>
<circle cx="1110.5" cy="289.4" r="4" fill="#fafafa" stroke="#333" stroke-width="1"/><circle cx="1110.5" cy="289.4" r="1.5" fill="#333"/>
<circle cx="1340.7" cy="309.3" r="42.0" fill="url(#halo)" opacity="1.00"/>
<ellipse cx="1329.8" cy="277.0" rx="7.3" ry="9.3" transform="rotate(0 1329.8 277.0)" fill="none" stroke="#9a9a9a" stroke-width="2" opacity="0.8"/>
<ellipse cx="1329.8" cy="277.0" rx="5.5" ry="7.5" transform="rotate(0 1329.8 277.0)" fill="#4c4c4c" stroke="#202020" stroke-width="1.9"/>
<ellipse cx="1345.1" cy="282.0" rx="7.3" ry="8.3" transform="rotate(0 1345.1 282.0)" fill="none" stroke="#9a9a9a" stroke-width="2" opacity="0.8"/>
<ellipse cx="1345.1" cy="282.0" rx="5.5" ry="6.5" transform="rotate(0 1345.1 282.0)" fill="#4c4c4c" stroke="#202020" stroke-width="1.9"/>
<ellipse cx="1357.8" cy="284.2" rx="7.3" ry="10.3" transform="rotate(-5 1357.8 284.2)" fill="none" stroke="#9a9a9a" stroke-width="2" opacity="0.8"/>
<ellipse cx="1357.8" cy="284.2" rx="5.5" ry="8.5" transform="rotate(-5 1357.8 284.2)" fill="#4c4c4c" stroke="#202020" stroke-width="1.9"/>
<ellipse cx="1320.0" cy="298.4" rx="6.8" ry="11.3" transform="rotate(20 1320.0 298.4)" fill="none" stroke="#9a9a9a" stroke-width="2" opacity="0.8"/>
<ellipse cx="1320.0" cy="298.4" rx="5.0" ry="9.5" transform="rotate(20 1320.0 298.4)" fill="#4c4c4c" stroke="#202020" stroke-width="1.9"/>
<ellipse cx="1361.5" cy="322.9" rx="7.8" ry="9.3" transform="rotate(-10 1361.5 322.9)" fill="none" stroke="#9a9a9a" stroke-width="2" opacity="0.8"/>
<ellipse cx="1361.5" cy="322.9" rx="6.0" ry="7.5" transform="rotate(-10 1361.5 322.9)" fill="#4c4c4c" stroke="#202020" stroke-width="1.9"/>
<ellipse cx="1329.3" cy="344.3" rx="7.8" ry="9.3" transform="rotate(0 1329.3 344.3)" fill="none" stroke="#9a9a9a" stroke-width="2" opacity="0.8"/>
<ellipse cx="1329.3" cy="344.3" rx="6.0" ry="7.5" transform="rotate(0 1329.3 344.3)" fill="#4c4c4c" stroke="#202020" stroke-width="1.9"/>
<ellipse cx="1328.7" cy="322.5" rx="6.3" ry="13.8" transform="rotate(-35 1328.7 322.5)" fill="none" stroke="#9a9a9a" stroke-width="2" opacity="0.8"/>
<ellipse cx="1328.7" cy="322.5" rx="4.5" ry="12.0" transform="rotate(-35 1328.7 322.5)" fill="#454545" stroke="#202020" stroke-width="1.9"/>
<ellipse cx="1315.6" cy="329.5" rx="3.8" ry="6.5" fill="#fdfdfd" stroke="#222" stroke-width="1.5"/>
</g>
<text x="3" y="518" font-family='"Liberation Sans", sans-serif' font-weight="bold" font-size="58" transform="translate(0.3,0) scale(0.9,1)">c</text>
<path d="M146,534 V906.5 M143.3,903.5 H697.5" stroke="#000" stroke-width="5.5" fill="none"/>
<path d="M130,876.2 H146" stroke="#000" stroke-width="5"/>
<text x="0" y="0" text-anchor="end" font-family='"Liberation Sans", sans-serif' font-weight="bold" font-size="28.8" fill="#262626" transform="translate(126.2,886.2) scale(0.975,1)">0</text>
<path d="M130,824.0 H146" stroke="#000" stroke-width="5"/>
<text x="0" y="0" text-anchor="end" font-family='"Liberation Sans", sans-serif' font-weight="bold" font-size="28.8" fill="#262626" transform="translate(126.2,834.0) scale(0.975,1)">20</text>
<path d="M130,771.8 H146" stroke="#000" stroke-width="5"/>
<text x="0" y="0" text-anchor="end" font-family='"Liberation Sans", sans-serif' font-weight="bold" font-size="28.8" fill="#262626" transform="translate(126.2,781.8) scale(0.975,1)">40</text>
<path d="M130,719.6 H146" stroke="#000" stroke-width="5"/>
<text x="0" y="0" text-anchor="end" font-family='"Liberation Sans", sans-serif' font-weight="bold" font-size="28.8" fill="#262626" transform="translate(126.2,729.6) scale(0.975,1)">60</text>
<path d="M130,667.4 H146" stroke="#000" stroke-width="5"/>
<text x="0" y="0" text-anchor="end" font-family='"Liberation Sans", sans-serif' font-weight="bold" font-size="28.8" fill="#262626" transform="translate(126.2,677.4) scale(0.975,1)">80</text>
<path d="M130,615.2 H146" stroke="#000" stroke-width="5"/>
<text x="0" y="0" text-anchor="end" font-family='"Liberation Sans", sans-serif' font-weight="bold" font-size="28.8" fill="#262626" transform="translate(126.2,625.2) scale(0.975,1)">100</text>
<path d="M130,563.0 H146" stroke="#000" stroke-width="5"/>
<text x="0" y="0" text-anchor="end" font-family='"Liberation Sans", sans-serif' font-weight="bold" font-size="28.8" fill="#262626" transform="translate(126.2,573.0) scale(0.975,1)">120</text>
<path d="M146.1,903 V919" stroke="#000" stroke-width="5"/>
<text x="0" y="0" text-anchor="middle" font-family='"Liberation Sans", sans-serif' font-weight="bold" font-size="28" fill="#262626" transform="translate(146.1,949.3) scale(0.95,1)">2<tspan font-size="18.2" dy="-9.5" dx="2.2">-1</tspan></text>
<path d="M224.5,903 V919" stroke="#000" stroke-width="5"/>
<text x="0" y="0" text-anchor="middle" font-family='"Liberation Sans", sans-serif' font-weight="bold" font-size="28" fill="#262626" transform="translate(224.5,949.3) scale(0.95,1)">2<tspan font-size="18.2" dy="-9.5" dx="2.2">0</tspan></text>
<path d="M302.9,903 V919" stroke="#000" stroke-width="5"/>
<text x="0" y="0" text-anchor="middle" font-family='"Liberation Sans", sans-serif' font-weight="bold" font-size="28" fill="#262626" transform="translate(302.9,949.3) scale(0.95,1)">2<tspan font-size="18.2" dy="-9.5" dx="2.2">1</tspan></text>
<path d="M381.3,903 V919" stroke="#000" stroke-width="5"/>
<text x="0" y="0" text-anchor="middle" font-family='"Liberation Sans", sans-serif' font-weight="bold" font-size="28" fill="#262626" transform="translate(381.3,949.3) scale(0.95,1)">2<tspan font-size="18.2" dy="-9.5" dx="2.2">2</tspan></text>
<path d="M459.7,903 V919" stroke="#000" stroke-width="5"/>
<text x="0" y="0" text-anchor="middle" font-family='"Liberation Sans", sans-serif' font-weight="bold" font-size="28" fill="#262626" transform="translate(459.7,949.3) scale(0.95,1)">2<tspan font-size="18.2" dy="-9.5" dx="2.2">3</tspan></text>
<path d="M538.1,903 V919" stroke="#000" stroke-width="5"/>
<text x="0" y="0" text-anchor="middle" font-family='"Liberation Sans", sans-serif' font-weight="bold" font-size="28" fill="#262626" transform="translate(538.1,949.3) scale(0.95,1)">2<tspan font-size="18.2" dy="-9.5" dx="2.2">4</tspan></text>
<path d="M616.5,903 V919" stroke="#000" stroke-width="5"/>
<text x="0" y="0" text-anchor="middle" font-family='"Liberation Sans", sans-serif' font-weight="bold" font-size="28" fill="#262626" transform="translate(616.5,949.3) scale(0.95,1)">2<tspan font-size="18.2" dy="-9.5" dx="2.2">5</tspan></text>
<path d="M694.9,903 V919" stroke="#000" stroke-width="5"/>
<text x="0" y="0" text-anchor="middle" font-family='"Liberation Sans", sans-serif' font-weight="bold" font-size="28" fill="#262626" transform="translate(694.9,949.3) scale(0.95,1)">2<tspan font-size="18.2" dy="-9.5" dx="2.2">6</tspan></text>
<text x="421" y="996.3" text-anchor="middle" font-family='"Liberation Sans", sans-serif' font-weight="bold" font-size="30">Concentration (mM)</text>
<text transform="translate(67,915) rotate(-90)" font-family='"Liberation Sans", sans-serif' font-weight="bold" font-size="29.5">Normalized germination (%)</text>
<path d="M196.6,862.0 L275.0,848.0 L353.4,830.0 L431.8,770.0 L510.2,652.0 L588.6,615.0 L667.0,617.0" fill="none" stroke="#a51914" stroke-width="3.3" stroke-linecap="round" stroke-dasharray="0 11"/>
<path d="M196.6,866.0 L275.0,865.0 L353.4,844.0 L431.8,786.0 L510.2,665.0 L588.6,626.0 L667.0,624.0" fill="none" stroke="#a51914" stroke-width="3.3" stroke-linecap="round" stroke-dasharray="0 11"/>
<path d="M196.6,878.0 L275.0,860.0 L353.4,735.0 L431.8,677.0 L510.2,636.0 L588.6,600.5 L667.0,617.0" fill="none" stroke="#277a1b" stroke-width="3.3" stroke-linecap="round" stroke-dasharray="0 11"/>
<path d="M196.6,884.0 L275.0,878.0 L353.4,775.4 L431.8,697.3 L510.2,660.3 L588.6,632.0 L667.0,620.0" fill="none" stroke="#277a1b" stroke-width="3.3" stroke-linecap="round" stroke-dasharray="0 11"/>
<path d="M196.6,872.0 L275.0,851.0 L353.4,722.3 L431.8,669.0 L510.2,661.8 L588.6,655.9 L667.0,693.2" fill="none" stroke="#1a149a" stroke-width="3.3" stroke-linecap="round" stroke-dasharray="0 11"/>
<path d="M196.6,877.0 L275.0,861.0 L353.4,731.9 L431.8,689.5 L510.2,682.3 L588.6,678.3 L667.0,732.6" fill="none" stroke="#1a149a" stroke-width="3.3" stroke-linecap="round" stroke-dasharray="0 11"/>
<path d="M196.6,857.7 L202.5,857.7 L208.3,857.6 L214.2,857.6 L220.1,857.5 L225.9,857.5 L231.8,857.4 L237.7,857.3 L243.5,857.2 L249.4,857.1 L255.3,856.9 L261.1,856.7 L267.0,856.5 L272.9,856.3 L278.7,856.0 L284.6,855.6 L290.5,855.2 L296.3,854.8 L302.2,854.2 L308.1,853.6 L313.9,852.9 L319.8,852.0 L325.7,851.0 L331.6,849.8 L337.4,848.4 L343.3,846.9 L349.2,845.0 L355.0,842.9 L360.9,840.5 L366.8,837.7 L372.6,834.5 L378.5,830.9 L384.4,826.8 L390.2,822.1 L396.1,816.9 L402.0,811.2 L407.8,804.8 L413.7,797.8 L419.6,790.2 L425.4,782.1 L431.3,773.5 L437.2,764.4 L443.0,755.0 L448.9,745.4 L454.8,735.6 L460.6,725.9 L466.5,716.3 L472.4,707.0 L478.2,698.0 L484.1,689.4 L490.0,681.4 L495.8,673.9 L501.7,667.1 L507.6,660.8 L513.4,655.2 L519.3,650.1 L525.2,645.5 L531.0,641.5 L536.9,638.0 L542.8,634.9 L548.6,632.1 L554.5,629.8 L560.4,627.7 L566.3,625.9 L572.1,624.4 L578.0,623.1 L583.9,621.9 L589.7,621.0 L595.6,620.1 L601.5,619.4 L607.3,618.8 L613.2,618.3 L619.1,617.8 L624.9,617.4 L630.8,617.1 L636.7,616.8 L642.5,616.6 L648.4,616.4 L654.3,616.2 L660.1,616.1 L666.0,615.9" fill="none" stroke="#a51914" stroke-width="3.5"/>
<path d="M196.6,887.8 L202.5,886.5 L208.3,885.1 L214.2,883.5 L220.1,881.8 L225.9,879.8 L231.8,877.7 L237.7,875.4 L243.5,872.9 L249.4,870.2 L255.3,867.2 L261.1,863.9 L267.0,860.4 L272.9,856.6 L278.7,852.5 L284.6,848.1 L290.5,843.3 L296.3,838.3 L302.2,832.9 L308.1,827.2 L313.9,821.2 L319.8,814.9 L325.7,808.3 L331.6,801.5 L337.4,794.4 L343.3,787.1 L349.2,779.7 L355.0,772.2 L360.9,764.5 L366.8,756.9 L372.6,749.2 L378.5,741.6 L384.4,734.1 L390.2,726.7 L396.1,719.6 L402.0,712.6 L407.8,705.8 L413.7,699.4 L419.6,693.2 L425.4,687.3 L431.3,681.7 L437.2,676.5 L443.0,671.5 L448.9,666.9 L454.8,662.6 L460.6,658.6 L466.5,654.9 L472.4,651.5 L478.2,648.3 L484.1,645.4 L490.0,642.8 L495.8,640.4 L501.7,638.1 L507.6,636.1 L513.4,634.3 L519.3,632.6 L525.2,631.1 L531.0,629.7 L536.9,628.4 L542.8,627.3 L548.6,626.3 L554.5,625.4 L560.4,624.5 L566.3,623.8 L572.1,623.1 L578.0,622.5 L583.9,621.9 L589.7,621.4 L595.6,621.0 L601.5,620.6 L607.3,620.2 L613.2,619.9 L619.1,619.6 L624.9,619.3 L630.8,619.1 L636.7,618.9 L642.5,618.7 L648.4,618.5 L654.3,618.4 L660.1,618.2 L666.0,618.1" fill="none" stroke="#277a1b" stroke-width="3.5"/>
<path d="M196.6,874.3 L202.5,874.1 L208.3,873.9 L214.2,873.6 L220.1,873.2 L225.9,872.7 L231.8,872.0 L237.7,871.2 L243.5,870.1 L249.4,868.7 L255.3,866.9 L261.1,864.6 L267.0,861.8 L272.9,858.2 L278.7,853.7 L284.6,848.2 L290.5,841.6 L296.3,833.8 L302.2,824.7 L308.1,814.3 L313.9,803.0 L319.8,790.8 L325.7,778.2 L331.6,765.6 L337.4,753.5 L343.3,742.1 L349.2,731.8 L355.0,722.7 L360.9,714.9 L366.8,708.3 L372.6,702.9 L378.5,698.4 L384.4,694.8 L390.2,692.0 L396.1,689.7 L402.0,687.9 L407.8,686.6 L413.7,685.5 L419.6,684.6 L425.4,684.0 L431.3,683.5 L437.2,683.1 L443.0,682.8 L448.9,682.5 L454.8,682.4 L460.6,682.2 L466.5,682.1 L472.4,682.0 L478.2,682.0 L484.1,681.9 L490.0,681.9 L495.8,681.9 L501.7,681.8 L507.6,681.8 L513.4,681.8 L519.3,681.8 L525.2,681.8 L531.0,681.8 L536.9,681.8 L542.8,681.8 L548.6,681.8 L554.5,681.8 L560.4,681.8 L566.3,681.8 L572.1,681.8 L578.0,681.8 L583.9,681.8 L589.7,681.8 L595.6,681.8 L601.5,681.8 L607.3,681.8 L613.2,681.8 L619.1,681.8 L624.9,681.8 L630.8,681.8 L636.7,681.8 L642.5,681.8 L648.4,681.8 L654.3,681.8 L660.1,681.8 L666.0,681.8" fill="none" stroke="#1a149a" stroke-width="3.5"/>
<circle cx="196.6" cy="864.7" r="7.5" fill="#a51914"/>
<circle cx="275.0" cy="857.5" r="7.5" fill="#a51914"/>
<circle cx="353.4" cy="836.8" r="7.5" fill="#a51914"/>
<circle cx="431.8" cy="777.5" r="7.5" fill="#a51914"/>
<circle cx="510.2" cy="658.5" r="7.5" fill="#a51914"/>
<circle cx="588.6" cy="620.8" r="7.5" fill="#a51914"/>
<circle cx="667.0" cy="621.4" r="7.5" fill="#a51914"/>
<circle cx="196.6" cy="881.3" r="7.5" fill="#277a1b"/>
<circle cx="275.0" cy="869.6" r="7.5" fill="#277a1b"/>
<circle cx="353.4" cy="754.6" r="7.5" fill="#277a1b"/>
<circle cx="431.8" cy="688.0" r="7.5" fill="#277a1b"/>
<circle cx="510.2" cy="647.7" r="7.5" fill="#277a1b"/>
<circle cx="588.6" cy="615.9" r="7.5" fill="#277a1b"/>
<circle cx="667.0" cy="617.5" r="7.5" fill="#277a1b"/>
<circle cx="196.6" cy="875.0" r="7.5" fill="#1a149a"/>
<circle cx="275.0" cy="855.7" r="7.5" fill="#1a149a"/>
<circle cx="353.4" cy="725.5" r="7.5" fill="#1a149a"/>
<circle cx="431.8" cy="679.0" r="7.5" fill="#1a149a"/>
<circle cx="510.2" cy="671.6" r="7.5" fill="#1a149a"/>
<circle cx="588.6" cy="667.1" r="7.5" fill="#1a149a"/>
<circle cx="667.0" cy="713.3" r="7.5" fill="#1a149a"/>
<path d="M174.6,563.7 H213.5" stroke="#1a149a" stroke-width="4"/>
<circle cx="194.4" cy="563.7" r="7.7" fill="#1a149a"/>
<text x="235.6" y="573.0" font-family='"Liberation Sans", sans-serif' font-size="29.1">CDCA <tspan font-size="22.7" dx="2">(EC<tspan font-size="16.5" dy="4.5">50</tspan><tspan dy="-4.5">=2.4mM)</tspan></tspan></text>
<path d="M174.6,601.9 H213.5" stroke="#277a1b" stroke-width="4"/>
<circle cx="194.4" cy="601.9" r="7.7" fill="#277a1b"/>
<text x="235.6" y="611.2" font-family='"Liberation Sans", sans-serif' font-size="29.1">DCA <tspan font-size="22.7" dx="2">(EC<tspan font-size="16.5" dy="4.5">50</tspan><tspan dy="-4.5">=3.3mM)</tspan></tspan></text>
<path d="M174.6,640.1 H213.5" stroke="#a51914" stroke-width="4"/>
<circle cx="194.4" cy="640.1" r="7.7" fill="#a51914"/>
<text x="235.6" y="649.4" font-family='"Liberation Sans", sans-serif' font-size="29.1">GCA <tspan font-size="22.7" dx="2">(EC<tspan font-size="16.5" dy="4.5">50</tspan><tspan dy="-4.5">=7.7mM)</tspan></tspan></text>
<path d="M591.30,778.50 L591.30,768.30 M591.30,778.50 L601.00,775.35 M591.30,778.50 L597.30,786.75 M591.30,778.50 L585.30,786.75 M591.30,778.50 L581.60,775.35" stroke="#3a9a2a" stroke-width="3.70" fill="none" stroke-linecap="butt"/>
<path d="M669.30,781.00 L669.30,770.80 M669.30,781.00 L679.00,777.85 M669.30,781.00 L675.30,789.25 M669.30,781.00 L663.30,789.25 M669.30,781.00 L659.60,777.85" stroke="#3a9a2a" stroke-width="3.70" fill="none" stroke-linecap="butt"/>
<path d="M591.30,812.80 L591.30,802.60 M591.30,812.80 L601.00,809.65 M591.30,812.80 L597.30,821.05 M591.30,812.80 L585.30,821.05 M591.30,812.80 L581.60,809.65" stroke="#a51914" stroke-width="3.70" fill="none" stroke-linecap="butt"/>
<path d="M669.30,815.30 L669.30,805.10 M669.30,815.30 L679.00,812.15 M669.30,815.30 L675.30,823.55 M669.30,815.30 L663.30,823.55 M669.30,815.30 L659.60,812.15" stroke="#a51914" stroke-width="3.70" fill="none" stroke-linecap="butt"/>
<text x="0" y="0" font-family='"Liberation Sans", sans-serif' font-weight="bold" font-size="63" transform="translate(732.2,526.5) scale(0.96,1)">d</text>
<path d="M876,535.5 V905 M873,902.3 H1426.3" stroke="#000" stroke-width="5.5" fill="none"/>
<path d="M860,902.3 H876" stroke="#000" stroke-width="5"/>
<text x="0" y="0" text-anchor="end" font-family='"Liberation Sans", sans-serif' font-weight="bold" font-size="27.6" fill="#262626" transform="translate(856,912.0) scale(1.0,1)">0.0</text>
<path d="M867,861.8 H876" stroke="#000" stroke-width="5"/>
<path d="M860,821.3 H876" stroke="#000" stroke-width="5"/>
<text x="0" y="0" text-anchor="end" font-family='"Liberation Sans", sans-serif' font-weight="bold" font-size="27.6" fill="#262626" transform="translate(856,831.0) scale(1.0,1)">0.2</text>
<path d="M867,780.8 H876" stroke="#000" stroke-width="5"/>
<path d="M860,740.3 H876" stroke="#000" stroke-width="5"/>
<text x="0" y="0" text-anchor="end" font-family='"Liberation Sans", sans-serif' font-weight="bold" font-size="27.6" fill="#262626" transform="translate(856,750.0) scale(1.0,1)">0.4</text>
<path d="M867,699.8 H876" stroke="#000" stroke-width="5"/>
<path d="M860,659.3 H876" stroke="#000" stroke-width="5"/>
<text x="0" y="0" text-anchor="end" font-family='"Liberation Sans", sans-serif' font-weight="bold" font-size="27.6" fill="#262626" transform="translate(856,669.0) scale(1.0,1)">0.6</text>
<path d="M867,618.8 H876" stroke="#000" stroke-width="5"/>
<path d="M860,578.3 H876" stroke="#000" stroke-width="5"/>
<text x="0" y="0" text-anchor="end" font-family='"Liberation Sans", sans-serif' font-weight="bold" font-size="27.6" fill="#262626" transform="translate(856,588.0) scale(1.0,1)">0.8</text>
<path d="M867,537.8 H876" stroke="#000" stroke-width="5"/>
<path d="M875.4,902 V918.3" stroke="#000" stroke-width="5"/>
<text x="0" y="0" text-anchor="middle" font-family='"Liberation Sans", sans-serif' font-weight="bold" font-size="28" fill="#262626" transform="translate(875.4,949.3) scale(0.95,1)">2<tspan font-size="18.2" dy="-9.5" dx="2.2">-1</tspan></text>
<path d="M953.7,902 V918.3" stroke="#000" stroke-width="5"/>
<text x="0" y="0" text-anchor="middle" font-family='"Liberation Sans", sans-serif' font-weight="bold" font-size="28" fill="#262626" transform="translate(953.7,949.3) scale(0.95,1)">2<tspan font-size="18.2" dy="-9.5" dx="2.2">0</tspan></text>
<path d="M1032.0,902 V918.3" stroke="#000" stroke-width="5"/>
<text x="0" y="0" text-anchor="middle" font-family='"Liberation Sans", sans-serif' font-weight="bold" font-size="28" fill="#262626" transform="translate(1032.0,949.3) scale(0.95,1)">2<tspan font-size="18.2" dy="-9.5" dx="2.2">1</tspan></text>
<path d="M1110.3,902 V918.3" stroke="#000" stroke-width="5"/>
<text x="0" y="0" text-anchor="middle" font-family='"Liberation Sans", sans-serif' font-weight="bold" font-size="28" fill="#262626" transform="translate(1110.3,949.3) scale(0.95,1)">2<tspan font-size="18.2" dy="-9.5" dx="2.2">2</tspan></text>
<path d="M1188.6,902 V918.3" stroke="#000" stroke-width="5"/>
<text x="0" y="0" text-anchor="middle" font-family='"Liberation Sans", sans-serif' font-weight="bold" font-size="28" fill="#262626" transform="translate(1188.6,949.3) scale(0.95,1)">2<tspan font-size="18.2" dy="-9.5" dx="2.2">3</tspan></text>
<path d="M1266.9,902 V918.3" stroke="#000" stroke-width="5"/>
<text x="0" y="0" text-anchor="middle" font-family='"Liberation Sans", sans-serif' font-weight="bold" font-size="28" fill="#262626" transform="translate(1266.9,949.3) scale(0.95,1)">2<tspan font-size="18.2" dy="-9.5" dx="2.2">4</tspan></text>
<path d="M1345.2,902 V918.3" stroke="#000" stroke-width="5"/>
<text x="0" y="0" text-anchor="middle" font-family='"Liberation Sans", sans-serif' font-weight="bold" font-size="28" fill="#262626" transform="translate(1345.2,949.3) scale(0.95,1)">2<tspan font-size="18.2" dy="-9.5" dx="2.2">5</tspan></text>
<path d="M1423.5,902 V918.3" stroke="#000" stroke-width="5"/>
<text x="0" y="0" text-anchor="middle" font-family='"Liberation Sans", sans-serif' font-weight="bold" font-size="28" fill="#262626" transform="translate(1423.5,949.3) scale(0.95,1)">2<tspan font-size="18.2" dy="-9.5" dx="2.2">6</tspan></text>
<text x="1150" y="996.3" text-anchor="middle" font-family='"Liberation Sans", sans-serif' font-weight="bold" font-size="30">Concentration (mM)</text>
<text transform="translate(797,836) rotate(-90) scale(0.975,1)" font-family='"Liberation Sans", sans-serif' font-weight="bold" font-size="30">V<tspan font-size="21" dy="5">max</tspan><tspan dy="-5"> ( -</tspan><tspan font-weight="normal">&#916;</tspan><tspan>OD/min)</tspan></text>
<path d="M925.8,869.7 L1004.1,869.0 L1082.4,860.0 L1160.7,860.5 L1239.0,711.9 L1317.3,599.5 L1395.6,548.6" fill="none" stroke="#a51914" stroke-width="3.2" stroke-linecap="round" stroke-dasharray="0 11"/>
<path d="M925.8,869.7 L1004.1,869.0 L1082.4,872.0 L1160.7,882.0 L1239.0,802.0 L1317.3,730.6 L1395.6,690.9" fill="none" stroke="#a51914" stroke-width="3.2" stroke-linecap="round" stroke-dasharray="0 11"/>
<path d="M925.8,893.0 L1004.1,888.0 L1082.4,866.0 L1160.7,728.3 L1239.0,790.0 L1317.3,785.5 L1395.6,797.4" fill="none" stroke="#277a1b" stroke-width="3.2" stroke-linecap="round" stroke-dasharray="0 11"/>
<path d="M925.8,898.0 L1004.1,894.0 L1082.4,881.0 L1160.7,860.5 L1239.0,787.0 L1317.3,738.6 L1395.6,661.0" fill="none" stroke="#277a1b" stroke-width="3.2" stroke-linecap="round" stroke-dasharray="0 11"/>
<path d="M925.8,887.2 L1004.1,888.9 L1082.4,872.5 L1160.7,850.7 L1239.0,843.0 L1317.3,855.8 L1395.6,871.7" fill="none" stroke="#1a149a" stroke-width="3.2" stroke-linecap="round" stroke-dasharray="0 11"/>
<path d="M926.0,900.9 L931.9,900.7 L937.7,900.6 L943.6,900.4 L949.5,900.2 L955.4,900.0 L961.2,899.7 L967.1,899.5 L973.0,899.2 L978.9,898.9 L984.7,898.5 L990.6,898.1 L996.5,897.7 L1002.3,897.2 L1008.2,896.7 L1014.1,896.2 L1020.0,895.6 L1025.8,894.9 L1031.7,894.2 L1037.6,893.3 L1043.5,892.5 L1049.3,891.5 L1055.2,890.4 L1061.1,889.3 L1066.9,888.0 L1072.8,886.6 L1078.7,885.1 L1084.6,883.4 L1090.4,881.6 L1096.3,879.6 L1102.2,877.5 L1108.0,875.2 L1113.9,872.7 L1119.8,870.0 L1125.7,867.0 L1131.5,863.8 L1137.4,860.4 L1143.3,856.8 L1149.2,852.8 L1155.0,848.7 L1160.9,844.2 L1166.8,839.4 L1172.6,834.4 L1178.5,829.1 L1184.4,823.5 L1190.3,817.6 L1196.1,811.4 L1202.0,805.0 L1207.9,798.4 L1213.8,791.5 L1219.6,784.5 L1225.5,777.3 L1231.4,769.9 L1237.2,762.4 L1243.1,754.9 L1249.0,747.3 L1254.9,739.7 L1260.7,732.1 L1266.6,724.6 L1272.5,717.2 L1278.3,709.9 L1284.2,702.8 L1290.1,695.9 L1296.0,689.2 L1301.8,682.8 L1307.7,676.6 L1313.6,670.6 L1319.5,665.0 L1325.3,659.6 L1331.2,654.5 L1337.1,649.6 L1342.9,645.1 L1348.8,640.9 L1354.7,636.9 L1360.6,633.1 L1366.4,629.7 L1372.3,626.5 L1378.2,623.5 L1384.1,620.7 L1389.9,618.1 L1395.8,615.8" fill="none" stroke="#a51914" stroke-width="3.5"/>
<path d="M926.0,896.2 L931.9,895.7 L937.7,895.2 L943.6,894.6 L949.5,894.0 L955.4,893.3 L961.2,892.6 L967.1,891.8 L973.0,891.0 L978.9,890.1 L984.7,889.1 L990.6,888.1 L996.5,887.0 L1002.3,885.8 L1008.2,884.5 L1014.1,883.2 L1020.0,881.8 L1025.8,880.2 L1031.7,878.6 L1037.6,876.9 L1043.5,875.1 L1049.3,873.1 L1055.2,871.1 L1061.1,869.0 L1066.9,866.8 L1072.8,864.4 L1078.7,862.0 L1084.6,859.4 L1090.4,856.8 L1096.3,854.0 L1102.2,851.2 L1108.0,848.2 L1113.9,845.2 L1119.8,842.1 L1125.7,839.0 L1131.5,835.8 L1137.4,832.5 L1143.3,829.2 L1149.2,825.9 L1155.0,822.6 L1160.9,819.2 L1166.8,815.9 L1172.6,812.6 L1178.5,809.3 L1184.4,806.1 L1190.3,802.9 L1196.1,799.7 L1202.0,796.7 L1207.9,793.7 L1213.8,790.8 L1219.6,787.9 L1225.5,785.2 L1231.4,782.6 L1237.2,780.1 L1243.1,777.6 L1249.0,775.3 L1254.9,773.1 L1260.7,771.0 L1266.6,769.0 L1272.5,767.1 L1278.3,765.3 L1284.2,763.6 L1290.1,762.0 L1296.0,760.5 L1301.8,759.1 L1307.7,757.8 L1313.6,756.5 L1319.5,755.4 L1325.3,754.3 L1331.2,753.2 L1337.1,752.3 L1342.9,751.4 L1348.8,750.6 L1354.7,749.8 L1360.6,749.1 L1366.4,748.4 L1372.3,747.8 L1378.2,747.3 L1384.1,746.7 L1389.9,746.2 L1395.8,745.8" fill="none" stroke="#277a1b" stroke-width="3.5"/>
<path d="M926.0,896.1 L931.9,895.5 L937.7,894.8 L943.6,894.0 L949.5,893.2 L955.4,892.4 L961.2,891.5 L967.1,890.5 L973.0,889.5 L978.9,888.4 L984.7,887.3 L990.6,886.1 L996.5,884.9 L1002.3,883.7 L1008.2,882.4 L1014.1,881.1 L1020.0,879.8 L1025.8,878.4 L1031.7,877.1 L1037.6,875.8 L1043.5,874.5 L1049.3,873.3 L1055.2,872.0 L1061.1,870.8 L1066.9,869.7 L1072.8,868.6 L1078.7,867.5 L1084.6,866.6 L1090.4,865.6 L1096.3,864.7 L1102.2,863.9 L1108.0,863.2 L1113.9,862.5 L1119.8,861.8 L1125.7,861.2 L1131.5,860.6 L1137.4,860.1 L1143.3,859.7 L1149.2,859.2 L1155.0,858.9 L1160.9,858.5 L1166.8,858.2 L1172.6,857.9 L1178.5,857.6 L1184.4,857.4 L1190.3,857.2 L1196.1,857.0 L1202.0,856.8 L1207.9,856.7 L1213.8,856.5 L1219.6,856.4 L1225.5,856.3 L1231.4,856.2 L1237.2,856.1 L1243.1,856.0 L1249.0,855.9 L1254.9,855.9 L1260.7,855.8 L1266.6,855.8 L1272.5,855.7 L1278.3,855.7 L1284.2,855.6 L1290.1,855.6 L1296.0,855.6 L1301.8,855.5 L1307.7,855.5 L1313.6,855.5 L1319.5,855.5 L1325.3,855.5 L1331.2,855.5 L1337.1,855.4 L1342.9,855.4 L1348.8,855.4 L1354.7,855.4 L1360.6,855.4 L1366.4,855.4 L1372.3,855.4 L1378.2,855.4 L1384.1,855.4 L1389.9,855.4 L1395.8,855.4" fill="none" stroke="#1a149a" stroke-width="3.5"/>
<circle cx="925.8" cy="869.7" r="7.5" fill="#a51914"/>
<circle cx="1004.1" cy="869.0" r="7.5" fill="#a51914"/>
<circle cx="1082.4" cy="865.8" r="7.5" fill="#a51914"/>
<circle cx="1160.7" cy="871.4" r="7.5" fill="#a51914"/>
<circle cx="1239.0" cy="756.7" r="7.5" fill="#a51914"/>
<circle cx="1317.3" cy="669.0" r="7.5" fill="#a51914"/>
<circle cx="1395.6" cy="619.4" r="7.5" fill="#a51914"/>
<circle cx="925.8" cy="895.5" r="7.5" fill="#277a1b"/>
<circle cx="1004.1" cy="891.4" r="7.5" fill="#277a1b"/>
<circle cx="1082.4" cy="873.7" r="7.5" fill="#277a1b"/>
<circle cx="1160.7" cy="794.5" r="7.5" fill="#277a1b"/>
<circle cx="1239.0" cy="788.4" r="7.5" fill="#277a1b"/>
<circle cx="1317.3" cy="770.4" r="7.5" fill="#277a1b"/>
<circle cx="1395.6" cy="729.5" r="7.5" fill="#277a1b"/>
<circle cx="925.8" cy="887.2" r="7.5" fill="#1a149a"/>
<circle cx="1004.1" cy="888.9" r="7.5" fill="#1a149a"/>
<circle cx="1082.4" cy="872.5" r="7.5" fill="#1a149a"/>
<circle cx="1160.7" cy="850.7" r="7.5" fill="#1a149a"/>
<circle cx="1239.0" cy="843.0" r="7.5" fill="#1a149a"/>
<circle cx="1317.3" cy="855.8" r="7.5" fill="#1a149a"/>
<circle cx="1395.6" cy="871.7" r="7.5" fill="#1a149a"/>
<path d="M923,569.7 H961.7" stroke="#1a149a" stroke-width="4"/>
<circle cx="942.1" cy="569.7" r="7.3" fill="#1a149a"/>
<text x="984.5" y="580.7" font-family='"Liberation Sans", sans-serif' font-size="29.5" fill="#16138c">CDCA</text>
<path d="M923,618.9 H961.7" stroke="#277a1b" stroke-width="4"/>
<circle cx="942.1" cy="618.9" r="7.3" fill="#277a1b"/>
<text x="984.5" y="629.9" font-family='"Liberation Sans", sans-serif' font-size="29.5" fill="#16138c">DCA</text>
<path d="M923,668.1 H961.7" stroke="#a51914" stroke-width="4"/>
<circle cx="942.1" cy="668.1" r="7.3" fill="#a51914"/>
<text x="984.5" y="679.1" font-family='"Liberation Sans", sans-serif' font-size="29.5" fill="#16138c">GCA</text>
<path d="M1242.00,551.50 L1242.00,541.20 M1242.00,551.50 L1251.80,548.32 M1242.00,551.50 L1248.05,559.83 M1242.00,551.50 L1235.95,559.83 M1242.00,551.50 L1232.20,548.32" stroke="#3a9a2a" stroke-width="3.70" fill="none" stroke-linecap="butt"/>
<path d="M1320.10,551.50 L1320.10,541.20 M1320.10,551.50 L1329.90,548.32 M1320.10,551.50 L1326.15,559.83 M1320.10,551.50 L1314.05,559.83 M1320.10,551.50 L1310.30,548.32" stroke="#3a9a2a" stroke-width="3.70" fill="none" stroke-linecap="butt"/>
<path d="M1320.10,586.00 L1320.10,575.70 M1320.10,586.00 L1329.90,582.82 M1320.10,586.00 L1326.15,594.33 M1320.10,586.00 L1314.05,594.33 M1320.10,586.00 L1310.30,582.82" stroke="#a51914" stroke-width="3.70" fill="none" stroke-linecap="butt"/>
<path d="M1398.30,586.00 L1398.30,575.70 M1398.30,586.00 L1408.10,582.82 M1398.30,586.00 L1404.35,594.33 M1398.30,586.00 L1392.25,594.33 M1398.30,586.00 L1388.50,582.82" stroke="#a51914" stroke-width="3.70" fill="none" stroke-linecap="butt"/>
</svg>
</body></html>
